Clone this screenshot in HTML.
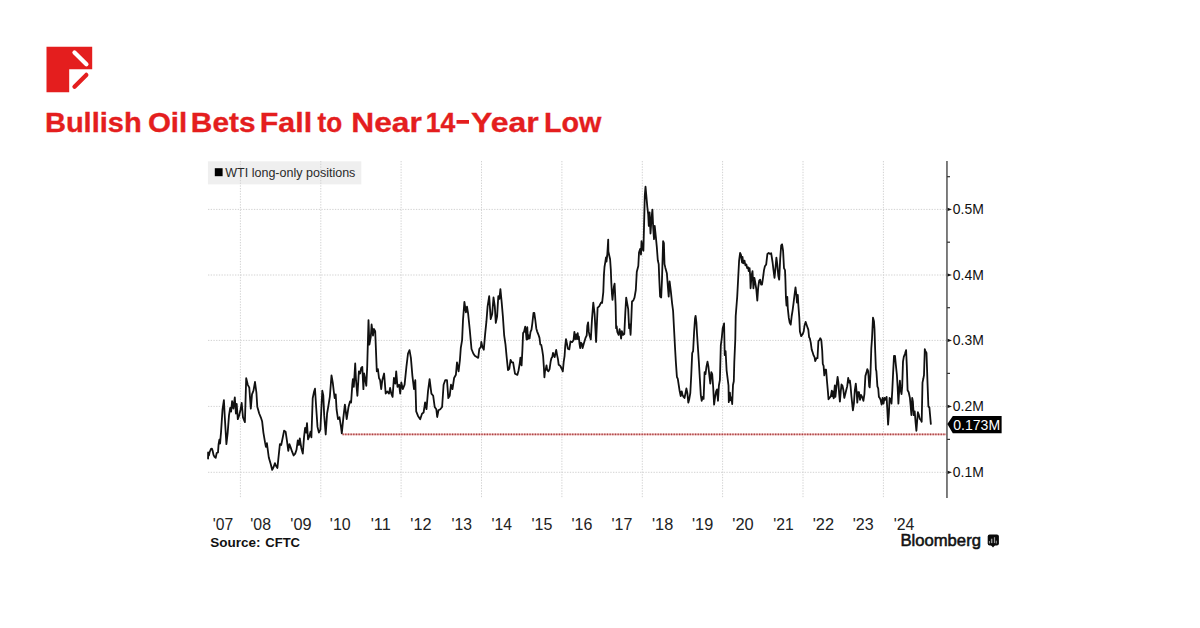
<!DOCTYPE html>
<html><head><meta charset="utf-8">
<style>
html,body{margin:0;padding:0;background:#fff;}
body{width:1200px;height:628px;overflow:hidden;position:relative;}
svg{position:absolute;left:0;top:0;}
text{font-family:"Liberation Sans",sans-serif;}
</style></head><body>
<svg width="1200" height="628" viewBox="0 0 1200 628">
<rect width="1200" height="628" fill="#fff"/>
<path d="M46.5 46.8 H92.2 V69.2 H69.2 V92.2 H46.5 Z" fill="#e41e1e"/>
<line x1="74.5" y1="52.5" x2="86.4" y2="64.3" stroke="#fff" stroke-width="4.3" stroke-linecap="round"/>
<line x1="86.3" y1="74.9" x2="74.5" y2="86.7" stroke="#e41e1e" stroke-width="4.3" stroke-linecap="round"/>
<text x="44.93" y="131.9" font-size="28" font-weight="bold" fill="#e41e1e" textLength="96.77" lengthAdjust="spacingAndGlyphs" stroke="#e41e1e" stroke-width="0.35">Bullish</text>
<text x="147.95" y="131.9" font-size="28" font-weight="bold" fill="#e41e1e" textLength="39.32" lengthAdjust="spacingAndGlyphs" stroke="#e41e1e" stroke-width="0.35">Oil</text>
<text x="190.87" y="131.9" font-size="28" font-weight="bold" fill="#e41e1e" textLength="64.64" lengthAdjust="spacingAndGlyphs" stroke="#e41e1e" stroke-width="0.35">Bets</text>
<text x="259.83" y="131.9" font-size="28" font-weight="bold" fill="#e41e1e" textLength="52.29" lengthAdjust="spacingAndGlyphs" stroke="#e41e1e" stroke-width="0.35">Fall</text>
<text x="317.50" y="131.9" font-size="28" font-weight="bold" fill="#e41e1e" textLength="24.64" lengthAdjust="spacingAndGlyphs" stroke="#e41e1e" stroke-width="0.35">to</text>
<text x="351.23" y="131.9" font-size="28" font-weight="bold" fill="#e41e1e" textLength="70.57" lengthAdjust="spacingAndGlyphs" stroke="#e41e1e" stroke-width="0.35">Near</text>
<text x="425.85" y="131.9" font-size="28" font-weight="bold" fill="#e41e1e" textLength="29.54" lengthAdjust="spacingAndGlyphs" stroke="#e41e1e" stroke-width="0.35">14</text>
<text x="471.11" y="131.9" font-size="28" font-weight="bold" fill="#e41e1e" textLength="67.59" lengthAdjust="spacingAndGlyphs" stroke="#e41e1e" stroke-width="0.35">Year</text>
<text x="543.95" y="131.9" font-size="28" font-weight="bold" fill="#e41e1e" textLength="57.45" lengthAdjust="spacingAndGlyphs" stroke="#e41e1e" stroke-width="0.35">Low</text>
<rect x="456.5" y="120" width="12.5" height="3.75" fill="#e41e1e"/>
<rect x="207.9" y="161.3" width="153.4" height="23.1" fill="#efefef"/>
<g stroke="#d2d2d2" stroke-width="1" stroke-dasharray="1.35 1.35" fill="none">
<line x1="240.4" y1="161" x2="240.4" y2="498"/>
<line x1="320.8" y1="161" x2="320.8" y2="498"/>
<line x1="401.1" y1="161" x2="401.1" y2="498"/>
<line x1="481.5" y1="161" x2="481.5" y2="498"/>
<line x1="561.9" y1="161" x2="561.9" y2="498"/>
<line x1="642.3" y1="161" x2="642.3" y2="498"/>
<line x1="722.6" y1="161" x2="722.6" y2="498"/>
<line x1="803.0" y1="161" x2="803.0" y2="498"/>
<line x1="883.4" y1="161" x2="883.4" y2="498"/>
<line x1="208" y1="209.4" x2="946.5" y2="209.4"/>
<line x1="208" y1="275.0" x2="946.5" y2="275.0"/>
<line x1="208" y1="340.4" x2="946.5" y2="340.4"/>
<line x1="208" y1="406.4" x2="946.5" y2="406.4"/>
<line x1="208" y1="472.3" x2="946.5" y2="472.3"/>
</g>
<rect x="214.8" y="168.2" width="7.8" height="8" fill="#000"/>
<text x="225.30" y="176.6" font-size="12" font-weight="normal" fill="#2a2a2a" textLength="130.05" lengthAdjust="spacingAndGlyphs" >WTI long-only positions</text>
<line x1="342.5" y1="434.3" x2="946.5" y2="434.3" stroke="#eeb0b0" stroke-width="1.8"/>
<line x1="342.5" y1="434.3" x2="946.5" y2="434.3" stroke="#a84545" stroke-width="1.8" stroke-dasharray="1.3 1.37"/>
<polyline points="208.0,457.5 208.1,458.6 208.1,452.4 208.9,455.5 209.7,452.0 211.0,448.8 211.9,448.6 212.6,450.5 213.5,454.9 214.5,456.8 215.7,457.8 216.7,453.0 218.0,452.4 218.6,444.1 219.4,439.6 220.1,443.5 220.6,437.0 221.0,432.6 222.5,409.7 223.9,400.1 224.8,417.3 226.4,444.1 227.7,432.6 229.0,415.4 230.2,407.8 231.1,411.6 232.1,401.1 233.4,408.7 234.8,397.3 235.9,413.5 236.7,404.0 237.8,419.2 239.2,415.4 240.5,409.7 241.7,403.0 243.0,417.3 244.9,422.1 246.2,378.2 247.8,384.8 249.3,387.7 250.8,408.7 252.0,394.4 253.5,390.6 255.0,382.0 256.4,392.5 257.3,406.8 259.2,413.5 260.8,417.3 262.1,421.2 263.4,432.6 265.0,442.2 265.9,446.9 266.9,443.1 268.8,457.5 270.7,464.1 272.2,469.9 273.6,467.0 274.9,463.2 276.1,466.1 277.4,468.0 278.3,459.4 279.9,444.1 281.2,445.0 282.6,438.3 284.1,430.7 285.6,431.7 286.9,440.3 288.3,450.8 289.4,444.1 290.8,447.9 292.1,451.7 293.6,455.5 295.2,453.6 296.5,449.8 297.8,440.3 299.0,445.0 299.8,438.3 301.3,447.9 302.8,453.6 304.1,436.4 305.1,427.8 306.1,432.6 307.0,423.1 308.0,439.3 309.3,436.4 310.5,431.7 311.4,437.4 312.7,398.2 314.1,391.5 315.0,388.7 316.2,407.8 317.5,426.9 318.9,432.6 320.4,429.7 321.3,409.7 322.3,390.6 323.3,395.4 324.2,415.4 325.7,434.5 327.1,413.5 328.4,405.9 329.9,396.3 331.5,375.3 332.8,382.9 333.8,391.5 334.7,398.2 335.7,394.4 336.6,409.7 338.0,419.2 339.5,417.3 341.0,426.9 341.8,433.3 343.3,418.1 344.9,404.7 346.7,419.2 348.5,407.0 350.0,401.4 351.1,402.5 352.3,384.7 352.9,379.1 353.8,386.9 355.2,363.5 356.0,380.2 357.4,395.8 358.9,371.3 360.1,373.5 361.2,368.0 362.3,366.9 363.4,389.1 364.1,373.5 365.0,378.0 366.3,385.8 367.2,366.9 368.5,320.1 369.4,344.6 370.8,336.8 371.6,324.5 373.0,335.7 373.9,329.0 375.2,331.2 376.8,371.3 377.9,369.1 379.0,378.0 380.1,380.2 381.2,389.1 382.3,380.2 384.1,373.5 385.7,393.6 387.2,391.4 389.0,393.6 390.1,388.0 391.3,393.6 392.6,396.9 393.9,378.0 395.3,383.6 396.2,371.3 397.5,386.9 399.1,384.7 400.2,393.6 401.3,382.5 402.8,389.1 404.6,384.7 406.4,366.9 408.0,353.5 409.5,350.1 410.9,357.9 412.4,375.8 414.0,389.1 415.3,380.2 416.2,411.4 418.0,415.9 420.2,419.2 422.0,413.7 423.6,412.5 425.1,402.5 426.5,409.2 428.0,391.4 429.6,379.1 431.4,393.6 433.2,395.8 434.7,407.0 436.3,409.2 437.2,417.0 438.5,410.3 440.3,409.2 442.1,407.0 443.6,384.7 445.2,380.2 447.0,380.2 448.3,398.1 449.7,395.8 451.0,384.7 452.5,389.1 454.1,378.0 455.9,374.7 457.0,362.4 458.6,371.3 459.9,360.2 460.8,347.9 462.1,340.1 463.0,320.1 464.4,301.8 465.9,312.3 467.0,306.7 468.1,313.4 469.7,329.0 471.5,349.0 473.3,353.5 474.8,355.7 476.4,356.8 478.2,357.9 479.3,349.0 480.9,346.8 481.3,342.0 482.5,347.1 483.8,349.7 485.1,334.4 486.4,321.7 487.6,306.4 489.2,296.2 490.7,319.1 492.2,314.0 493.5,297.5 494.8,306.4 495.8,322.9 497.1,316.6 498.3,296.2 499.4,298.8 500.4,289.1 501.6,301.3 502.9,316.6 504.2,335.7 505.5,344.6 506.7,357.3 508.0,370.1 509.3,368.8 510.6,359.9 511.8,362.4 513.1,362.4 514.4,370.1 515.0,373.7 517.4,374.9 518.6,370.2 519.8,363.0 520.4,357.6 521.0,364.2 521.6,365.4 522.4,349.9 523.1,333.1 524.0,331.9 525.2,326.6 526.0,333.1 526.6,339.7 527.3,327.2 527.9,339.1 528.7,335.5 529.6,338.5 530.5,331.9 531.5,329.6 532.3,323.6 533.5,312.8 534.3,312.8 535.3,320.0 536.3,328.4 537.1,331.3 538.3,334.3 539.5,337.9 540.3,344.5 541.3,345.1 542.2,349.9 543.1,355.8 543.9,367.8 544.4,377.3 545.1,370.2 545.8,369.0 546.5,365.4 547.2,370.2 548.4,371.4 549.6,369.0 550.6,361.8 551.4,358.2 552.3,357.0 553.0,352.8 553.8,355.2 554.7,357.0 555.4,353.4 556.2,349.9 557.0,354.6 558.0,359.4 558.7,364.8 560.4,366.0 561.8,369.0 562.8,371.4 563.7,361.8 564.6,355.8 565.2,346.3 566.0,339.1 567.0,343.9 567.8,348.7 569.3,349.3 570.5,341.5 572.1,342.1 573.5,340.3 574.4,331.9 575.3,339.1 576.1,334.3 576.9,339.1 577.7,333.1 578.3,339.1 578.9,336.7 579.5,343.9 580.2,348.1 580.9,342.7 581.9,343.9 582.6,348.1 583.7,343.9 585.5,337.9 586.7,335.5 587.3,326.0 588.1,322.4 588.8,331.9 589.6,335.5 590.8,339.5 592.0,319.1 593.3,302.6 594.6,314.0 596.1,342.0 597.6,307.7 599.2,306.4 601.0,302.6 602.1,302.9 603.3,292.1 603.9,275.4 604.5,267.0 605.3,262.2 606.0,257.5 606.5,261.6 607.2,255.7 607.7,247.9 608.2,239.6 608.4,251.5 609.3,255.7 610.1,259.3 610.8,269.4 611.3,282.5 612.0,294.5 612.5,299.9 613.2,292.1 614.0,286.1 614.6,283.7 615.0,292.1 615.6,305.0 616.1,328.2 616.7,326.3 617.3,332.0 618.6,334.9 619.6,329.2 620.5,334.0 621.1,338.7 621.8,331.1 623.0,334.9 624.3,334.0 625.3,312.9 626.2,297.6 627.2,303.4 628.2,309.1 629.1,328.2 629.7,324.4 630.6,334.9 631.4,316.8 632.0,301.5 633.3,300.5 634.5,297.6 635.8,290.0 636.8,271.7 638.3,266.0 639.0,252.6 640.2,248.8 641.0,254.5 641.5,241.2 642.5,248.8 643.4,250.7 644.0,227.8 644.8,195.3 645.5,186.7 646.3,195.3 647.3,206.8 648.2,214.4 648.8,225.9 649.6,212.5 650.5,233.5 651.7,216.3 652.4,209.6 653.2,227.8 654.0,239.2 654.7,225.9 655.9,237.3 656.8,246.9 657.8,260.3 658.7,264.1 659.3,279.4 660.1,296.6 661.2,297.5 662.0,279.4 663.1,241.2 663.9,243.1 664.5,264.1 665.4,267.9 666.9,273.6 667.9,287.0 668.7,296.6 669.6,281.3 670.8,290.8 671.5,297.6 672.1,303.4 673.1,311.0 674.0,328.2 675.0,347.3 675.9,362.6 676.9,376.9 677.8,378.9 678.8,385.5 679.7,391.3 680.7,396.1 681.7,391.3 682.6,395.1 683.6,397.0 684.5,398.0 685.5,393.2 686.4,388.4 687.4,393.2 688.3,402.7 689.3,398.9 690.3,393.2 691.2,376.0 692.2,353.1 693.1,351.2 694.1,332.0 695.0,318.7 695.6,315.8 696.4,322.5 696.9,332.0 697.9,347.3 698.9,362.6 699.8,377.9 700.8,395.1 701.7,400.8 702.7,397.0 703.6,398.9 704.6,372.2 705.5,374.1 706.5,366.4 707.5,361.7 708.4,366.4 709.4,376.0 710.3,383.6 711.3,372.2 712.2,374.1 713.2,387.5 714.1,404.7 715.1,397.0 716.1,391.3 717.0,389.4 718.0,400.8 718.9,385.5 719.9,379.8 720.8,345.4 721.8,337.8 722.7,328.2 724.1,323.4 724.7,355.0 725.6,351.2 726.6,370.3 728.5,385.5 728.8,402.2 729.9,392.6 730.5,400.3 731.5,397.4 732.2,404.1 733.0,385.0 733.8,381.2 734.3,362.0 735.3,339.1 735.7,316.0 737.2,296.9 738.2,277.8 739.1,260.6 740.1,252.9 741.0,254.8 742.0,262.5 742.5,256.8 743.3,263.4 744.5,260.6 745.4,265.4 746.4,264.4 747.1,268.2 748.1,267.3 748.7,271.1 749.6,268.2 750.2,275.9 750.6,288.3 751.5,275.9 752.5,271.1 753.4,288.3 754.4,277.8 755.4,283.5 756.3,289.2 757.3,300.7 758.2,287.3 759.2,280.6 760.1,279.7 761.1,284.5 762.0,284.5 763.0,277.8 764.0,270.1 764.9,266.3 766.2,264.4 767.4,253.9 768.7,252.9 770.1,253.9 771.2,253.3 772.6,262.5 773.5,270.1 774.5,277.8 775.4,269.2 776.4,257.7 777.3,264.4 778.3,275.9 779.2,279.7 780.2,258.7 781.2,245.3 782.1,244.3 783.1,251.0 784.0,268.2 785.0,270.1 785.4,279.7 785.9,296.9 786.5,305.5 787.3,296.9 787.8,308.3 788.8,317.9 789.7,322.7 790.7,324.6 791.7,316.0 792.6,310.3 793.6,302.6 794.5,295.0 795.5,287.3 796.4,295.0 797.0,302.6 797.8,295.0 798.3,304.5 799.3,317.9 799.9,331.5 801.2,336.2 802.6,334.3 803.7,331.5 804.5,325.7 805.6,321.9 806.9,325.7 808.3,329.6 809.1,337.2 809.8,338.2 810.8,342.9 811.7,349.6 812.7,352.5 813.6,355.4 814.6,357.3 815.2,361.1 816.5,358.2 817.5,358.2 818.4,341.0 819.4,340.1 820.3,338.2 821.3,340.1 822.2,350.6 822.8,364.0 823.6,365.9 824.3,375.4 825.1,369.7 826.1,369.7 827.0,381.2 828.0,392.6 828.5,399.3 829.9,397.4 830.8,396.4 831.8,390.7 832.4,396.4 833.1,391.7 833.7,398.3 834.8,385.5 835.4,396.9 836.1,390.3 836.9,382.6 837.6,376.9 838.4,382.6 839.2,394.1 839.9,401.7 840.7,392.2 841.5,384.5 842.4,385.5 843.4,390.3 844.3,397.9 845.3,394.1 846.2,390.3 847.2,386.4 848.2,377.8 849.1,382.6 849.9,380.7 850.6,386.4 851.4,396.0 852.2,403.6 852.9,410.3 853.9,403.6 854.8,390.3 855.8,383.6 856.8,394.1 857.3,402.7 858.1,392.2 859.0,392.2 860.0,399.8 861.0,395.0 862.1,396.9 863.4,400.8 864.4,394.1 865.4,375.9 866.3,373.1 867.3,369.2 868.2,371.2 869.2,386.4 869.7,387.4 870.5,373.1 871.3,348.2 872.0,338.7 873.0,317.6 874.0,321.5 874.5,329.1 875.1,348.2 875.9,369.2 876.4,371.2 877.4,386.4 878.2,388.3 878.9,396.9 879.7,397.9 880.6,399.8 881.6,404.6 882.6,397.9 883.5,403.6 884.5,397.9 885.4,399.8 886.6,396.9 887.3,409.4 888.1,424.7 888.9,413.2 889.6,397.9 890.8,399.8 891.5,403.6 892.3,390.3 893.1,373.1 894.0,355.9 895.0,355.9 895.9,365.4 896.9,375.0 897.6,386.4 898.4,403.6 899.2,390.3 899.9,380.7 900.7,390.3 901.5,394.1 902.2,386.4 903.0,361.6 903.8,356.8 904.9,354.0 906.1,350.1 906.8,365.4 907.6,390.3 908.7,392.2 909.9,397.9 910.6,405.5 911.4,415.1 912.2,397.9 912.9,401.7 913.7,415.1 914.7,411.3 915.6,422.7 916.4,430.8 917.1,421.8 917.9,412.2 918.9,415.1 919.8,418.9 920.8,419.9 921.7,421.8 922.5,382.6 923.3,378.8 924.0,375.0 924.8,349.2 925.5,351.1 926.5,353.0 927.5,382.6 928.4,406.5 929.4,407.5 930.9,424.7" fill="none" stroke="#111" stroke-width="1.8" stroke-linejoin="round"/>
<line x1="946.95" y1="161" x2="946.95" y2="498" stroke="#707070" stroke-width="1.8"/>
<g fill="#111">
<path d="M947.6 207.8 L952 209.4 L947.6 211.0 Z"/>
<path d="M947.6 273.4 L952 275.0 L947.6 276.6 Z"/>
<path d="M947.6 338.8 L952 340.4 L947.6 342.0 Z"/>
<path d="M947.6 404.8 L952 406.4 L947.6 408.0 Z"/>
<path d="M947.6 470.7 L952 472.3 L947.6 473.9 Z"/>
</g>
<g stroke="#333" stroke-width="1.2">
<line x1="947" y1="242.2" x2="950" y2="242.2"/>
<line x1="947" y1="307.7" x2="950" y2="307.7"/>
<line x1="947" y1="373.4" x2="950" y2="373.4"/>
<line x1="947" y1="439.4" x2="950" y2="439.4"/>
<line x1="947" y1="176.7" x2="950" y2="176.7"/>
</g>
<text x="952.85" y="214.3" font-size="15.4" font-weight="normal" fill="#111" textLength="30.96" lengthAdjust="spacingAndGlyphs" >0.5M</text>
<text x="952.85" y="279.9" font-size="15.4" font-weight="normal" fill="#111" textLength="30.96" lengthAdjust="spacingAndGlyphs" >0.4M</text>
<text x="952.85" y="345.3" font-size="15.4" font-weight="normal" fill="#111" textLength="30.96" lengthAdjust="spacingAndGlyphs" >0.3M</text>
<text x="952.85" y="411.3" font-size="15.4" font-weight="normal" fill="#111" textLength="30.96" lengthAdjust="spacingAndGlyphs" >0.2M</text>
<text x="952.85" y="477.2" font-size="15.4" font-weight="normal" fill="#111" textLength="30.96" lengthAdjust="spacingAndGlyphs" >0.1M</text>
<path d="M947.3 424.1 L952.8 415.9 H1001.6 V433.2 H952.8 Z" fill="#000"/>
<text x="953.28" y="430" font-size="15.3" font-weight="normal" fill="#fff" textLength="46.87" lengthAdjust="spacingAndGlyphs" >0.173M</text>
<text x="212.76" y="529.6" font-size="16.7" font-weight="normal" fill="#222" textLength="20.45" lengthAdjust="spacingAndGlyphs" >&#39;07</text>
<text x="250.35" y="529.6" font-size="16.7" font-weight="normal" fill="#222" textLength="20.66" lengthAdjust="spacingAndGlyphs" >&#39;08</text>
<text x="290.32" y="529.6" font-size="16.7" font-weight="normal" fill="#222" textLength="21.21" lengthAdjust="spacingAndGlyphs" >&#39;09</text>
<text x="329.84" y="529.6" font-size="16.7" font-weight="normal" fill="#222" textLength="20.88" lengthAdjust="spacingAndGlyphs" >&#39;10</text>
<text x="370.72" y="529.6" font-size="16.7" font-weight="normal" fill="#222" textLength="20.08" lengthAdjust="spacingAndGlyphs" >&#39;11</text>
<text x="410.32" y="529.6" font-size="16.7" font-weight="normal" fill="#222" textLength="21.21" lengthAdjust="spacingAndGlyphs" >&#39;12</text>
<text x="451.56" y="529.6" font-size="16.7" font-weight="normal" fill="#222" textLength="20.45" lengthAdjust="spacingAndGlyphs" >&#39;13</text>
<text x="491.56" y="529.6" font-size="16.7" font-weight="normal" fill="#222" textLength="20.45" lengthAdjust="spacingAndGlyphs" >&#39;14</text>
<text x="531.54" y="529.6" font-size="16.7" font-weight="normal" fill="#222" textLength="20.88" lengthAdjust="spacingAndGlyphs" >&#39;15</text>
<text x="571.54" y="529.6" font-size="16.7" font-weight="normal" fill="#222" textLength="20.88" lengthAdjust="spacingAndGlyphs" >&#39;16</text>
<text x="611.54" y="529.6" font-size="16.7" font-weight="normal" fill="#222" textLength="20.88" lengthAdjust="spacingAndGlyphs" >&#39;17</text>
<text x="652.02" y="529.6" font-size="16.7" font-weight="normal" fill="#222" textLength="21.21" lengthAdjust="spacingAndGlyphs" >&#39;18</text>
<text x="692.02" y="529.6" font-size="16.7" font-weight="normal" fill="#222" textLength="21.21" lengthAdjust="spacingAndGlyphs" >&#39;19</text>
<text x="732.32" y="529.6" font-size="16.7" font-weight="normal" fill="#222" textLength="21.42" lengthAdjust="spacingAndGlyphs" >&#39;20</text>
<text x="773.26" y="529.6" font-size="16.7" font-weight="normal" fill="#222" textLength="20.44" lengthAdjust="spacingAndGlyphs" >&#39;21</text>
<text x="812.72" y="529.6" font-size="16.7" font-weight="normal" fill="#222" textLength="21.31" lengthAdjust="spacingAndGlyphs" >&#39;22</text>
<text x="852.74" y="529.6" font-size="16.7" font-weight="normal" fill="#222" textLength="20.88" lengthAdjust="spacingAndGlyphs" >&#39;23</text>
<text x="893.75" y="529.6" font-size="16.7" font-weight="normal" fill="#222" textLength="20.66" lengthAdjust="spacingAndGlyphs" >&#39;24</text>
<text x="210.18" y="546.6" font-size="12.7" font-weight="bold" fill="#111" textLength="50.35" lengthAdjust="spacingAndGlyphs" >Source:</text>
<text x="265.22" y="546.6" font-size="12.7" font-weight="bold" fill="#111" textLength="34.83" lengthAdjust="spacingAndGlyphs" >CFTC</text>
<text x="900.41" y="545.9" font-size="16.8" font-weight="normal" fill="#111" textLength="80.54" lengthAdjust="spacingAndGlyphs" stroke="#111" stroke-width="0.55">Bloomberg</text>
<rect x="987.7" y="534.4" width="11.2" height="11" rx="2" fill="#0a0a0a"/>
<path d="M990.8 545 L993 547.6 L995.2 545 Z" fill="#0a0a0a"/>
<g fill="#9a9a9a">
<rect x="988.9" y="541" width="1" height="2.5"/>
<rect x="990.9" y="538.7" width="1.5" height="4.4"/>
<rect x="993.9" y="537.2" width="1.2" height="5.9"/>
<rect x="995.8" y="540.7" width="1" height="2.8"/>
</g>
</svg>
</body></html>
